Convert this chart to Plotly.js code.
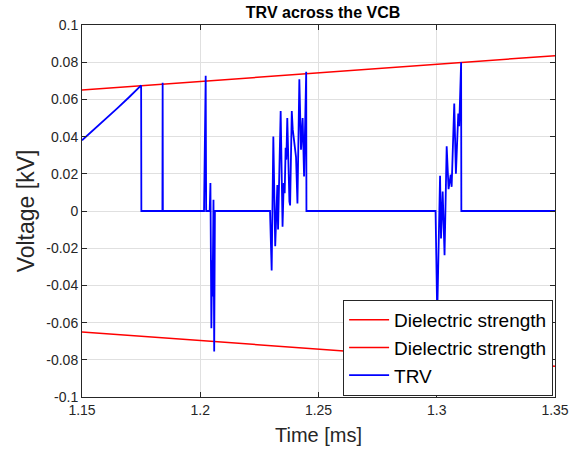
<!DOCTYPE html>
<html>
<head>
<meta charset="utf-8">
<script src="https://cdn.plot.ly/plotly-3.0.1.min.js"></script>
<style>html,body{margin:0;padding:0;background:#fff;}#chart{width:580px;height:450px;}</style>
</head>
<body>
<div id="chart"></div>
<script>
// Dielectric strength envelope (ms, kV)
const dsTime = [1.15, 1.35];
const dsUpper = [0.065, 0.0835];
const dsLower = [-0.065, -0.0835];

// TRV across the VCB (ms, kV)
const trvTime = [
  1.15, 1.155, 1.16, 1.165, 1.17, 1.175,
  1.1751, 1.1840, 1.1841, 1.1842,
  1.2016, 1.2023, 1.2025,
  1.2040, 1.2043, 1.2047, 1.2050, 1.2052, 1.2056, 1.2059, 1.2062,
  1.2295, 1.2302, 1.2309, 1.2317, 1.2326, 1.2329, 1.2340, 1.2348, 1.2353, 1.2357,
  1.2361, 1.2364, 1.2368, 1.2377, 1.2380, 1.2387, 1.2391, 1.2405, 1.2411, 1.2419,
  1.2426, 1.2433, 1.2439, 1.2448, 1.2449,
  1.2995, 1.3002, 1.3014, 1.3018, 1.3025, 1.3033, 1.3042, 1.3050, 1.3059, 1.3063,
  1.3074, 1.3081, 1.3091, 1.3095, 1.3103, 1.3104,
  1.35
];
const trvValue = [
  0.038, 0.0436, 0.0494, 0.0553, 0.0613, 0.0675,
  0, 0, 0.069, 0,
  0, 0.0727, 0,
  0, 0.015, -0.063, -0.0265, -0.046, 0.006, -0.0755, 0,
  0, -0.032, 0.040, -0.019, 0.014, -0.010, 0.0537, -0.0085, 0.015, 0.0096,
  0.034, 0.0276, 0.050, 0.005, 0.003, 0.0537, 0.044, 0.029, 0.004, 0.0708,
  0.033, 0.050, 0.0185, 0.0748, 0,
  0, -0.056, 0.019, -0.0148, 0.0105, -0.0238, 0.0348, 0.0117, 0.0195, 0.013,
  0.0578, 0.020, 0.0524, 0.0456, 0.080, 0,
  0
];

const yTickVals = [0.1, 0.08, 0.06, 0.04, 0.02, 0, -0.02, -0.04, -0.06, -0.08, -0.1];
const yTickText = ["0.1", "0.08", "0.06", "0.04", "0.02", "0", "-0.02", "-0.04", "-0.06", "-0.08", "-0.1"];
const xTickVals = [1.15, 1.2, 1.25, 1.3, 1.35];
const xTickText = ["1.15", "1.2", "1.25", "1.3", "1.35"];

const font = "Liberation Sans, Arial, sans-serif";
const traces = [
  {x: dsTime, y: dsUpper, type: "scatter", mode: "lines", name: "Dielectric strength",
   line: {color: "#ff0000", width: 1.5}},
  {x: dsTime, y: dsLower, type: "scatter", mode: "lines", name: "Dielectric strength",
   line: {color: "#ff0000", width: 1.5}},
  {x: trvTime, y: trvValue, type: "scatter", mode: "lines", name: "TRV",
   line: {color: "#0000ff", width: 1.8}}
];

const axisCommon = {
  showgrid: true, gridcolor: "#e0e0e0", gridwidth: 1,
  showline: true, linecolor: "#262626", linewidth: 1, mirror: "ticks",
  ticks: "inside", ticklen: 5, tickcolor: "#262626",
  zeroline: false, tickfont: {family: font, size: 14, color: "#262626"}
};

const layout = {
  width: 580, height: 450,
  margin: {l: 82, r: 25, t: 25, b: 53},
  paper_bgcolor: "#ffffff", plot_bgcolor: "#ffffff",
  title: {text: "<b>TRV across the VCB</b>", x: 0.557, xanchor: "center", y: 0.973, yanchor: "middle",
          font: {family: font, size: 16, color: "#000000"}},
  xaxis: Object.assign({}, axisCommon, {
    range: [1.15, 1.35], tickvals: xTickVals, ticktext: xTickText,
    title: {text: "Time [ms]", font: {family: font, size: 20, color: "#262626"}, standoff: 11}
  }),
  yaxis: Object.assign({}, axisCommon, {
    range: [-0.1, 0.1], tickvals: yTickVals, ticktext: yTickText,
    title: {text: "Voltage [kV]", font: {family: font, size: 23, color: "#262626"}, standoff: 5}
  }),
  showlegend: true,
  legend: {x: 0.996, xanchor: "right", y: 0.003, yanchor: "bottom",
           bgcolor: "#ffffff", bordercolor: "#262626", borderwidth: 1,
           font: {family: font, size: 19, color: "#000000"},
           tracegroupgap: 0, itemwidth: 40}
};

Plotly.newPlot("chart", traces, layout, {displayModeBar: false, staticPlot: true});
</script>
</body>
</html>
